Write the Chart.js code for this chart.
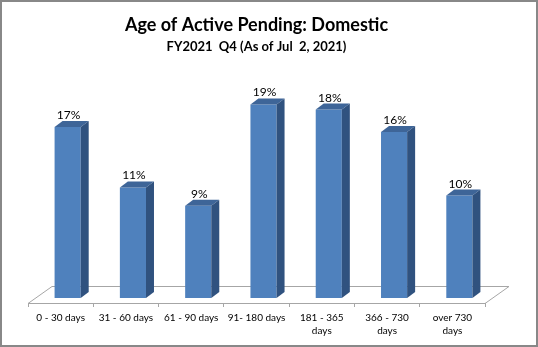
<!DOCTYPE html>
<html lang="en">
<head>
    <meta charset="UTF-8">
    <title>Age of Active Pending: Domestic</title>
    <script src="https://cdn.jsdelivr.net/npm/chart.js"></script>
    <style>
        body { margin: 0; background: #fff; }
        canvas { display: block; }
    </style>
</head>
<body>
    <canvas id="ageChart" width="538" height="347"></canvas>

    <script>
        // Datos del gráfico
        const categories = ['0 - 30 days', '31 - 60 days', '61 - 90 days', '91- 180 days',
            ['181 - 365', 'days'], ['366 - 730', 'days'], ['over 730', 'days']];
        const shares = [16.7, 10.8, 9.0, 18.9, 18.4, 16.2, 10.0];

        // 3D look: bars sit a bit back on the floor, with a small depth
        const shift = { x: 7, y: -5 };
        const depth = { x: 8, y: -6 };
        const floorDepth = { x: 24, y: -17 };

        const frontColor = '#4F81BD';
        const topColor = '#3E6598';
        const sideColor = '#30527F';
        const lineGray = '#A6A6A6';

        const bars3d = {
            id: 'bars3d',
            beforeDraw(chart) {
                const { ctx, chartArea: a } = chart;
                // floor (front edge is the x axis border)
                ctx.save();
                ctx.strokeStyle = lineGray;
                ctx.lineWidth = 1;
                ctx.beginPath();
                ctx.moveTo(a.left, a.bottom + 0.5);
                ctx.lineTo(a.left + floorDepth.x, a.bottom + floorDepth.y + 0.5);
                ctx.lineTo(a.right + floorDepth.x, a.bottom + floorDepth.y + 0.5);
                ctx.lineTo(a.right, a.bottom + 0.5);
                ctx.stroke();
                ctx.restore();
            },
            beforeDatasetsDraw(chart) {
                chart.ctx.save();
                chart.ctx.translate(shift.x, shift.y);
            },
            afterDatasetsDraw(chart) {
                const ctx = chart.ctx;
                const meta = chart.getDatasetMeta(0);
                meta.data.forEach(bar => {
                    const l = bar.x - bar.width / 2;
                    const r = bar.x + bar.width / 2;
                    const t = bar.y;
                    const b = bar.base;
                    // top face
                    ctx.fillStyle = topColor;
                    ctx.beginPath();
                    ctx.moveTo(l, t);
                    ctx.lineTo(l + depth.x, t + depth.y);
                    ctx.lineTo(r + depth.x, t + depth.y);
                    ctx.lineTo(r, t);
                    ctx.closePath();
                    ctx.fill();
                    // side face
                    ctx.fillStyle = sideColor;
                    ctx.beginPath();
                    ctx.moveTo(r, t);
                    ctx.lineTo(r + depth.x, t + depth.y);
                    ctx.lineTo(r + depth.x, b + depth.y);
                    ctx.lineTo(r, b);
                    ctx.closePath();
                    ctx.fill();
                });
                ctx.restore();

                // value labels
                ctx.save();
                ctx.fillStyle = '#000';
                ctx.font = '12px Lato';
                ctx.textAlign = 'center';
                ctx.textBaseline = 'alphabetic';
                meta.data.forEach((bar, i) => {
                    const txt = Math.round(shares[i]) + '%';
                    ctx.fillText(txt, bar.x + shift.x + 1, bar.y + shift.y + depth.y - 2);
                });
                ctx.restore();
            },
            afterDraw(chart) {
                const ctx = chart.ctx;
                ctx.save();
                ctx.strokeStyle = '#888888';
                ctx.lineWidth = 2;
                ctx.strokeRect(1, 1, chart.width - 2, chart.height - 2);
                ctx.restore();
            }
        };

        const ctx = document.getElementById('ageChart').getContext('2d');
        const ageChart = new Chart(ctx, {
            type: 'bar',
            data: {
                labels: categories,
                datasets: [{
                    data: shares,
                    backgroundColor: frontColor,
                    borderWidth: 0,
                    categoryPercentage: 1,
                    barPercentage: 0.4
                }]
            },
            options: {
                responsive: false,
                animation: false,
                layout: { padding: { top: 6, left: 28, right: 53, bottom: 0 } },
                plugins: {
                    legend: { display: false },
                    tooltip: { enabled: false },
                    title: {
                        display: true,
                        text: 'Age of Active Pending: Domestic',
                        color: '#000',
                        font: { family: 'Lato', size: 18, weight: 'bold', lineHeight: 1.2 },
                        padding: { top: 8, bottom: 0 }
                    },
                    subtitle: {
                        display: true,
                        text: 'FY2021  Q4 (As of Jul  2, 2021)',
                        color: '#000',
                        font: { family: 'Lato', size: 13, weight: 'bold', lineHeight: 1.2 },
                        padding: { top: 3, bottom: 3 }
                    }
                },
                scales: {
                    x: {
                        offset: true,
                        grid: {
                            offset: true,
                            drawOnChartArea: false,
                            drawTicks: true,
                            tickLength: 4,
                            color: lineGray
                        },
                        border: { display: true, color: lineGray },
                        ticks: {
                            color: '#000',
                            font: { family: 'Lato', size: 10, lineHeight: 1.35 },
                            padding: 4,
                            maxRotation: 0,
                            autoSkip: false
                        },
                        afterFit(scale) { scale.height = 44; }
                    },
                    y: {
                        display: false,
                        min: 0,
                        max: 24
                    }
                }
            },
            plugins: [bars3d]
        });
    </script>
</body>
</html>
